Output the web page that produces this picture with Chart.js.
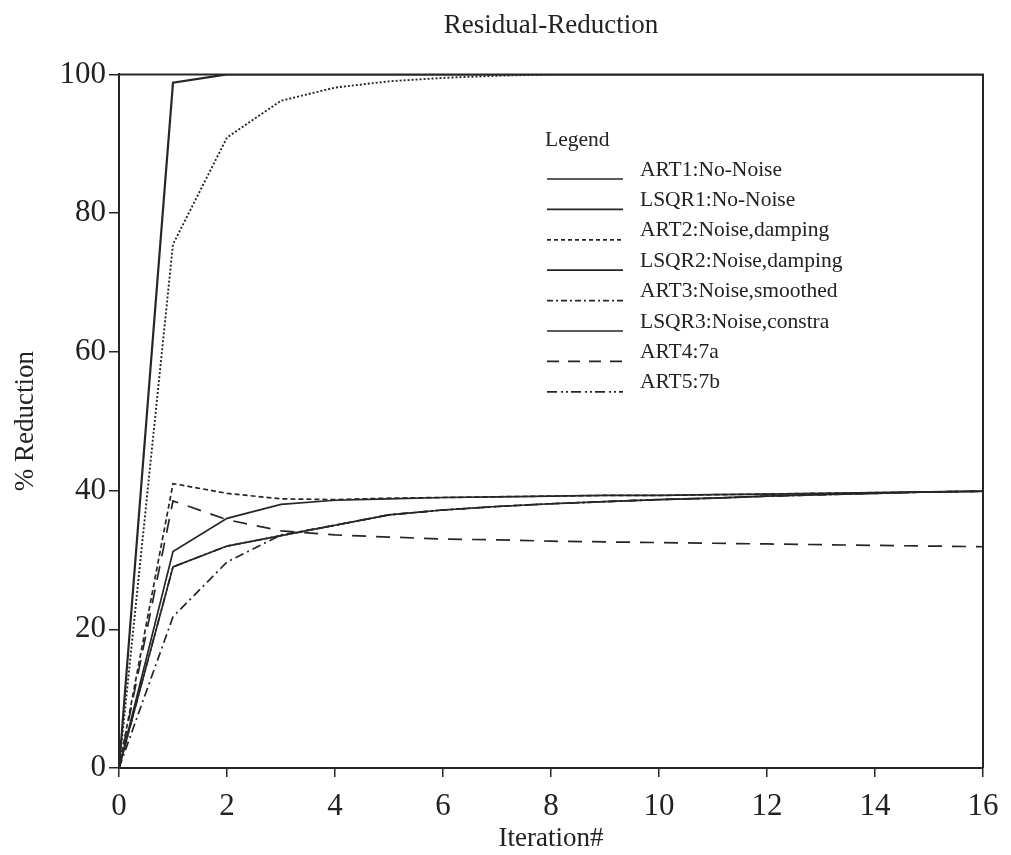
<!DOCTYPE html>
<html>
<head>
<meta charset="utf-8">
<script src="https://cdn.jsdelivr.net/npm/chart.js@4.4.1/dist/chart.umd.min.js"></script>
<style>
  html, body { margin: 0; padding: 0; background: #ffffff; }
  #wrap { width: 1011px; height: 855px; }
</style>
</head>
<body>
<div id="wrap"><canvas id="myChart" width="1011" height="855"></canvas></div>
<script>
// Data
const iterations = [0, 1, 2, 3, 4, 5, 6, 7, 8, 9, 10, 11, 12, 13, 14, 15, 16];
const xTicks = [0, 2, 4, 6, 8, 10, 12, 14, 16];
const yTicks = [0, 20, 40, 60, 80, 100];

const art1  = [0, 98.8, 100, 100, 100, 100, 100, 100, 100, 100, 100, 100, 100, 100, 100, 100, 100];
const lsqr1 = [0, 75.5, 90.9, 96.2, 98.1, 99.0, 99.5, 99.8, 100, 100, 100, 100, 100, 100, 100, 100, 100];
const art2  = [0, 41.0, 39.6, 38.8, 38.7, 38.9, 39.0, 39.1, 39.2, 39.3, 39.3, 39.4, 39.5, 39.6, 39.7, 39.8, 39.9];
const lsqr2 = [0, 31.2, 36.0, 38.0, 38.6, 38.8, 39.0, 39.1, 39.2, 39.3, 39.3, 39.4, 39.5, 39.6, 39.7, 39.8, 39.9];
const art3  = [0, 21.8, 29.7, 33.6, 35.0, 36.5, 37.2, 37.7, 38.1, 38.4, 38.7, 38.9, 39.2, 39.4, 39.6, 39.8, 39.9];
const lsqr3 = [0, 29.0, 32.0, 33.5, 35.0, 36.5, 37.2, 37.7, 38.1, 38.4, 38.7, 38.9, 39.2, 39.4, 39.6, 39.8, 39.9];
const art4  = [0, 38.5, 35.8, 34.2, 33.6, 33.3, 33.0, 32.9, 32.7, 32.6, 32.5, 32.4, 32.3, 32.2, 32.1, 32.0, 31.9];
const art5  = [0, 29.0, 32.0, 33.5, 35.0, 36.5, 37.2, 37.7, 38.1, 38.4, 38.7, 38.9, 39.2, 39.4, 39.6, 39.8, 39.9];

const ink = '#262626';
const serif = "'Liberation Serif', 'DejaVu Serif', serif";

function pts(arr) {
    return iterations.map((x, i) => ({ x: x, y: arr[i] }));
}

function line(label, arr, dash, legendDash, width) {
    return {
        label: label,
        data: pts(arr),
        borderColor: ink,
        backgroundColor: ink,
        borderWidth: width || 1.7,
        borderDash: dash,
        legendDash: legendDash || dash,
        pointRadius: 0,
        tension: 0,
        fill: false
    };
}

const datasets = [
    line('ART1:No-Noise', art1, [], [], 2.2),
    line('LSQR1:No-Noise', lsqr1, [2, 2], [], 1.9),
    line('ART2:Noise,damping', art2, [5, 3], [4, 3]),
    line('LSQR2:Noise,damping', lsqr2, []),
    line('ART3:Noise,smoothed', art3, [9, 4, 2, 4], [6, 3, 2, 3]),
    line('LSQR3:Noise,constra', lsqr3, []),
    line('ART4:7a', art4, [14, 10], [12, 9]),
    line('ART5:7b', art5, [8, 3, 2, 3, 2, 3], [10, 4, 2, 3, 2, 3])
];

// frame on top and right + custom legend block inside the plot
const framePlugin = {
    id: 'frameAndLegend',
    afterDraw(chart) {
        const c = chart.ctx;
        const a = chart.chartArea;
        c.save();
        c.strokeStyle = ink;
        c.lineWidth = 2;
        c.setLineDash([]);
        c.beginPath();
        c.moveTo(a.left, a.top);
        c.lineTo(a.right, a.top);
        c.lineTo(a.right, a.bottom);
        c.stroke();

        c.fillStyle = '#222';
        c.font = '21.5px ' + serif;
        c.textBaseline = 'middle';
        c.textAlign = 'left';
        c.fillText('Legend', 545, 140);
        chart.data.datasets.forEach((ds, i) => {
            const y = 170 + i * 30.4;
            c.beginPath();
            c.lineWidth = 1.7;
            c.setLineDash(ds.legendDash);
            c.moveTo(547, y + 9);
            c.lineTo(623, y + 9);
            c.stroke();
            c.setLineDash([]);
            c.fillText(ds.label, 640, y);
        });
        c.restore();
    }
};

const config = {
    type: 'line',
    data: { datasets },
    options: {
        responsive: false,
        animation: false,
        layout: { padding: { top: 6, right: 28, left: 0, bottom: 0 } },
        plugins: {
            legend: { display: false },
            tooltip: { enabled: false },
            title: {
                display: true,
                text: 'Residual-Reduction',
                fullSize: false,
                color: '#222',
                font: { family: serif, size: 27, weight: 'normal' },
                padding: { top: 4, bottom: 32 }
            }
        },
        scales: {
            x: {
                type: 'linear',
                min: 0,
                max: 16,
                afterBuildTicks: (s) => { s.ticks = xTicks.map(v => ({ value: v })); },
                afterFit: (s) => { s.height = 87; },
                border: { display: true, color: ink, width: 2 },
                grid: { drawOnChartArea: false, drawTicks: true, tickLength: 9, color: ink, lineWidth: 1.5 },
                ticks: { color: '#222', padding: 11, maxRotation: 0, font: { family: serif, size: 31 } },
                title: { display: true, text: 'Iteration#', color: '#222', padding: { top: 0, bottom: 0 },
                         font: { family: serif, size: 27 } }
            },
            y: {
                min: 0,
                max: 100,
                afterBuildTicks: (s) => { s.ticks = yTicks.map(v => ({ value: v })); },
                afterFit: (s) => { s.width = 119; },
                border: { display: true, color: ink, width: 2 },
                grid: { drawOnChartArea: false, drawTicks: true, tickLength: 10, color: ink, lineWidth: 1.5 },
                ticks: { color: '#222', padding: 3, font: { family: serif, size: 31 } },
                title: { display: true, text: '% Reduction', color: '#222', padding: { top: 10, bottom: 6 },
                         font: { family: serif, size: 27 } }
            }
        }
    },
    plugins: [framePlugin]
};

const myChart = new Chart(document.getElementById('myChart').getContext('2d'), config);
</script>
</body>
</html>
